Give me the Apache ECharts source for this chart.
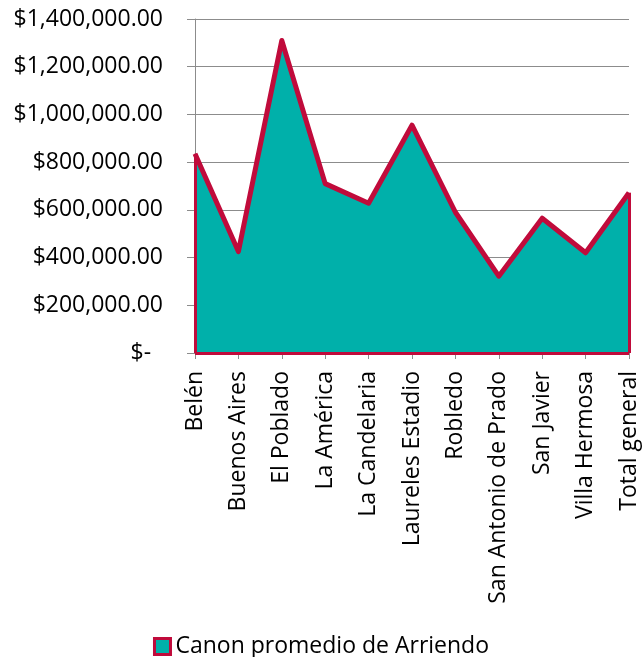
<!DOCTYPE html>
<html>
<head>
<meta charset="utf-8">
<script src="https://cdn.jsdelivr.net/npm/echarts@6/dist/echarts.min.js"></script>
<style>html,body{margin:0;padding:0;background:#fff}#c{width:642px;height:657px}</style>
</head>
<body>
<div id="c"></div>
<script>
const categories = ['Belén','Buenos Aires','El Poblado','La América','La Candelaria','Laureles Estadio','Robledo','San Antonio de Prado','San Javier','Villa Hermosa','Total general'];
const values = [835000, 425000, 1310000, 710000, 628000, 955000, 590000, 322000, 565000, 420000, 672000];
const seriesName = 'Canon promedio de Arriendo';
const yTicks = [0, 200000, 400000, 600000, 800000, 1000000, 1200000, 1400000];

const FONT = 'Open Sans';
const RED = '#C00B3B';
const TEAL = '#00B0AA';
const GRID = '#8C8C8C';

function fmt(v){
  if (v === 0) return '$-  ';
  return '$' + v.toLocaleString('en-US',{minimumFractionDigits:2, maximumFractionDigits:2});
}

const last = categories.length - 1;
const chart = echarts.init(document.getElementById('c'));
chart.setOption({
  animation: false,
  grid: {left: 195, right: 13, top: 19, bottom: 304, containLabel: false},
  legend: {
    top: 635, left: 'center', padding: 0,
    itemWidth: 16, itemHeight: 16, itemGap: 5,
    textStyle: {fontFamily: FONT, fontSize: 23, color: '#000'},
    data: [{name: seriesName, icon: 'rect', itemStyle: {color: TEAL, borderColor: RED, borderWidth: 3}}]
  },
  xAxis: {
    type: 'category', data: categories, boundaryGap: false,
    axisLine: {lineStyle: {color: GRID, width: 1}},
    axisTick: {show: true, length: 6, lineStyle: {color: GRID}, alignWithLabel: true},
    axisLabel: {rotate: 90, margin: 18, fontFamily: FONT, fontSize: 23, color: '#000', interval: 0}
  },
  yAxis: {
    type: 'value', min: yTicks[0], max: yTicks[yTicks.length-1], interval: yTicks[1]-yTicks[0],
    axisLine: {show: true, lineStyle: {color: GRID, width: 1}},
    axisTick: {show: true, length: 8, lineStyle: {color: GRID}},
    splitLine: {lineStyle: {color: GRID, width: 1}},
    axisLabel: {margin: 32, fontFamily: FONT, fontSize: 23, color: '#000', formatter: fmt}
  },
  series: [{
    name: seriesName, type: 'line', data: values,
    symbol: 'none', color: TEAL,
    lineStyle: {color: RED, width: 5, join: 'round'},
    areaStyle: {color: TEAL, opacity: 1},
    markLine: {
      silent: true, symbol: 'none', label: {show: false},
      lineStyle: {color: RED, width: 3, type: 'solid'},
      data: [
        [{coord: [0, 0]}, {coord: [0, values[0]]}],
        [{coord: [last, 0]}, {coord: [last, values[last]]}],
        [{coord: [0, 0]}, {coord: [last, 0]}]
      ]
    }
  }]
});
</script>
</body>
</html>
